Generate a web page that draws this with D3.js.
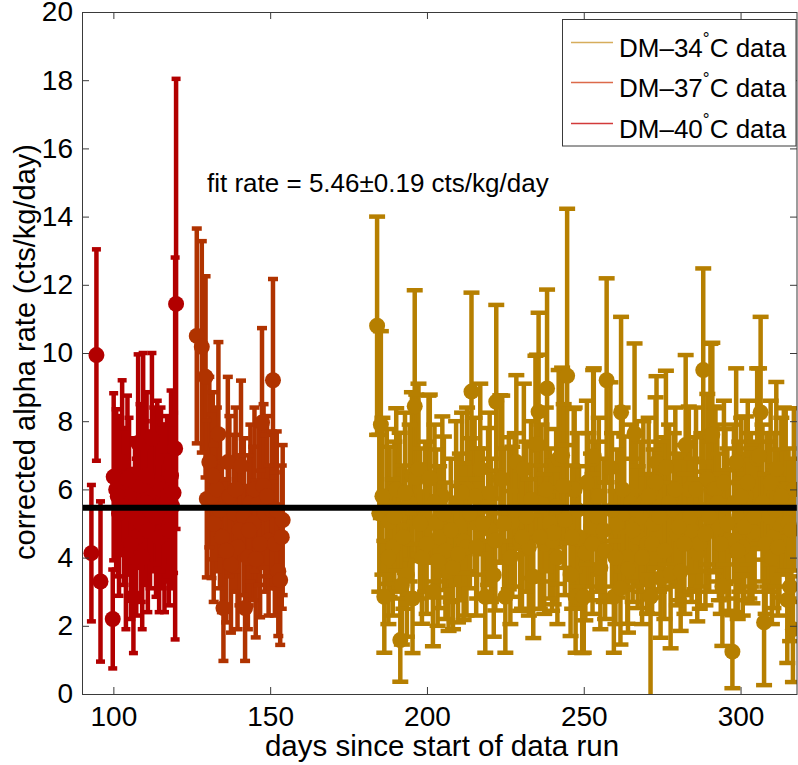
<!DOCTYPE html>
<html><head><meta charset="utf-8">
<script src="https://cdn.jsdelivr.net/npm/d3@7/dist/d3.min.js"></script>
<style>
body{margin:0;background:#fff}
svg{display:block}
text{font-family:"Liberation Sans",Arial,Helvetica,sans-serif;fill:#000}
</style>
</head><body>
<svg id="chart" width="798" height="765"></svg>
<script>
// ---------- data ----------
const days40 = [93.0,94.6,95.9,99.8,100.1,100.9,101.8,102.8,104.0,105.0,106.4,106.9,107.3,107.9,108.5,108.9,109.5,110.2,111.0,112.3,112.9,113.6,114.0,115.2,115.6,116.3,117.1,118.4,118.8,119.7,120.0,
  101.4,103.4,104.5,105.6,109.2,110.6,111.7,114.6,116.7,117.7,119.2];
const rate40 = [4.13,9.94,3.3,2.2,6.37,6.0,5.3,6.8,4.2,5.8,2.85,5.2,4.6,7.36,6.1,5.0,7.36,5.6,4.8,7.5,6.0,5.2,6.2,6.0,5.5,4.7,5.8,6.4,5.5,7.2,11.44,
  5.8,5.5,6.3,4.4,4.0,6.4,5.4,4.6,5.6,4.8,5.9];
const err40  = [2.0,3.1,2.35,1.45,2.45,2.35,2.42,2.4,2.3,2.3,1.65,2.3,2.3,2.6,2.4,2.3,2.64,2.4,2.4,2.5,2.4,2.35,2.4,2.4,2.4,2.3,2.35,2.5,2.4,5.6,6.6,
  2.35,2.3,2.45,2.2,2.1,2.45,2.3,2.2,2.3,2.2,2.35];

const days37 = [126.6,128.2,129.4,129.8,130.6,131.3,132.0,133.0,133.5,134.6,135.1,136.5,137.5,138.5,139.6,140.7,141.6,142.0,142.9,143.7,144.6,145.4,146.3,147.4,148.4,149.5,150.5,150.9,152.6,153.2,154.0,
  131.7,134.0,136.0,137.0,139.0,140.2,143.2,145.0,146.8,147.9,149.0,151.5,152.1,153.7];
const rate37 = [10.5,10.18,9.3,5.72,6.8,5.8,5.0,6.0,7.62,4.6,2.52,6.8,3.8,5.3,4.3,6.69,5.2,2.52,4.0,5.6,5.0,3.96,5.6,7.96,5.3,4.5,5.4,9.2,3.6,3.34,5.1,
  6.4,5.4,4.2,5.8,6.0,4.8,4.8,6.0,4.4,6.1,5.8,4.4,5.4,4.6];
const err37  = [3.15,3.1,2.95,2.3,2.5,2.4,2.3,2.4,2.7,2.2,1.55,2.5,2.0,2.3,2.4,2.5,2.3,1.55,2.1,2.3,2.25,2.3,2.4,2.77,2.3,2.2,2.3,2.97,1.9,1.9,2.2,
  2.45,2.3,2.1,2.35,2.4,2.2,2.2,2.4,2.15,2.4,2.35,2.1,2.3,2.1];

const days34 = [184.1,184.8,185.3,186.4,187.2,188.1,189.1,190.2,191.3,191.5,192.5,193.6,194.5,195.2,195.4,196.1,196.6,197.3,198.4,199.4,200.5,200.9,201.9,202.9,203.9,204.9,205.9,206.9,208.3,209.3,210.5,211.7,212.6,212.8,214.2,215.2,216.0,217.0,218.6,219.5,220.4,221.3,222.1,223.4,224.0,225.0,226.1,227.2,228.5,229.7,230.9,231.7,232.5,233.9,234.6,235.1,235.6,236.5,237.4,238.3,239.2,239.9,240.4,241.2,242.0,243.1,244.0,244.7,245.8,246.8,247.1,247.4,248.5,249.5,250.0,250.5,251.5,252.3,253.0,253.2,254.3,255.3,256.3,257.3,258.5,259.6,260.6,261.7,261.9,262.9,263.9,264.1,265.1,266.2,267.2,268.1,269.0,270.2,271.3,272.3,272.9,273.2,274.5,275.2,276.2,277.7,278.7,279.7,280.9,281.7,282.5,283.5,284.4,285.3,286.2,287.0,288.1,289.4,290.4,291.0,291.5,292.0,293.1,294.2,295.2,296.3,297.4,298.4,298.6,299.6,300.7,301.7,302.8,303.8,305.3,305.9,306.4,307.5,308.5,309.6,310.5,311.4,312.4,313.8,314.4,314.9,315.8,316.7,317.0,
  185.8,187.7,189.6,192.0,193.0,197.8,199.9,202.4,203.4,205.4,207.6,209.9,211.2,213.7,215.7,217.8,220.0,221.8,224.6,226.6,228.0,230.3,233.2,236.0,237.9,241.6,243.6,246.3,248.0,251.0,252.8,254.8,256.8,259.0,260.1,262.4,265.6,266.7,268.6,270.7,271.8,274.0,275.7,277.2,279.2,280.3,282.1,283.9,285.8,287.5,288.8,290.0,292.6,293.7,294.7,295.8,297.9,299.1,300.2,301.2,302.3,303.3,304.5,307.0,308.0,309.1,310.0,311.0,311.9,313.0,315.3,316.2];
const rate34 = [10.8,5.3,7.9,2.85,5.5,5.05,4.3,6.0,5.4,1.58,4.6,3.49,5.6,6.4,2.8,8.44,6.34,6.6,4.0,5.2,6.3,6.34,3.0,5.0,4.6,5.8,4.2,3.6,3.7,5.6,4.9,4.47,4.3,6.0,8.87,5.8,5.0,6.6,2.85,5.5,4.8,3.49,8.57,6.32,6.3,2.85,5.3,5.05,6.8,4.5,6.6,5.2,4.3,3.44,7.3,7.33,8.28,5.6,4.4,8.96,5.0,4.5,4.73,5.5,6.9,7.0,5.1,9.33,3.5,5.98,6.0,2.85,4.6,2.8,2.85,4.13,5.4,4.9,6.9,6.98,5.2,3.7,4.8,9.2,6.64,2.85,5.0,3.1,8.26,5.3,4.0,3.66,5.6,7.64,4.6,5.2,5.6,4.4,2.85,5.0,6.2,6.79,3.4,5.3,6.64,3.54,5.4,4.7,3.6,5.1,7.3,6.0,4.8,5.3,4.13,4.4,9.5,6.3,7.6,7.6,6.0,6.0,4.9,3.15,5.5,4.5,1.24,4.5,6.8,5.2,4.3,5.8,5.0,4.76,6.9,6.98,8.26,2.1,5.4,6.2,4.6,6.6,5.0,6.0,6.0,2.76,3.15,1.9,6.0,
  5.8,4.0,5.2,3.2,5.9,5.0,4.4,5.6,3.9,5.3,4.8,4.1,5.9,5.3,4.3,5.0,5.9,4.5,5.0,4.0,5.4,4.6,5.7,4.6,6.0,4.0,6.1,4.6,5.4,6.2,4.4,5.8,4.2,5.4,4.0,6.0,4.8,5.4,4.0,5.8,4.4,5.2,4.2,5.6,6.0,4.9,4.4,5.2,6.0,5.4,4.7,5.2,5.6,4.4,6.2,5.0,5.6,4.2,5.8,4.9,6.2,5.4,5.2,5.6,4.4,5.2,4.0,5.4,4.3,5.8,5.0,4.8];
const err34  = [3.2,2.3,2.74,1.64,2.27,2.2,2.0,2.38,2.26,1.22,2.1,1.81,2.3,2.45,1.6,3.4,2.44,2.5,1.94,2.2,2.45,2.44,1.6,2.17,2.08,2.34,2.0,1.75,1.8,2.4,2.15,2.3,2.0,2.4,2.9,2.3,2.2,2.5,1.64,2.3,2.1,1.81,2.84,2.44,2.45,1.64,2.23,2.2,2.55,2.06,2.5,2.2,2.0,1.8,2.62,2.62,2.9,2.3,2.05,2.9,2.2,2.06,2.1,2.27,2.6,2.57,2.2,4.9,1.8,2.38,2.4,1.64,2.08,1.6,1.64,1.97,2.25,2.15,2.6,2.57,2.2,1.8,2.1,2.99,2.5,1.64,2.17,1.65,2.8,2.25,1.94,1.86,2.3,2.64,2.08,2.2,2.4,2.04,3.1,2.17,2.5,2.53,1.75,2.23,2.84,2.2,2.25,2.1,1.75,2.2,2.64,2.43,2.1,2.23,2.0,1.9,2.98,2.5,2.67,2.7,2.43,2.38,2.15,1.74,2.27,2.06,1.07,2.1,2.75,2.2,2.0,2.34,2.2,2.1,2.65,2.57,2.8,1.84,2.25,2.4,2.08,2.55,2.17,2.4,2.38,1.85,1.6,1.55,2.38,
  2.3,1.95,2.2,1.75,2.35,2.2,2.05,2.3,1.9,2.25,2.1,2.0,2.35,2.2,2.0,2.2,2.35,2.05,2.2,1.95,2.25,2.1,2.3,2.1,2.4,1.95,2.4,2.1,2.25,2.4,2.05,2.3,2.0,2.25,1.95,2.4,2.1,2.25,1.95,2.3,2.05,2.2,2.0,2.3,2.4,2.15,2.05,2.2,2.4,2.25,2.1,2.2,2.3,2.05,2.4,2.2,2.3,2.0,2.3,2.15,2.4,2.25,2.2,2.3,2.05,2.2,1.95,2.25,2.0,2.3,2.2,2.1];

const seriesLabels = ["34", "37", "40"];
const xTicks = [100, 150, 200, 250, 300];
const yTicks = [0, 2, 4, 6, 8, 10, 12, 14, 16, 18, 20];
const fitRate = 5.46;
const fitErr = 0.19;

// ---------- layout ----------
const L = 82, R = 797, T = 12, B = 694;
const svg = d3.select("#chart");
const x = d3.scaleLinear().domain([90, 318]).range([L, R]);
const y = d3.scaleLinear().domain([0, 20]).range([B, T]);

const colors = {"34": "#b67f00", "37": "#b03300", "40": "#b20000"};
const legendColors = {"34": "#d6ad5c", "37": "#dc6a4a", "40": "#d23a3a"};
const capPx = {"34": 12, "37": 6, "40": 5};

svg.append("defs").append("clipPath").attr("id", "clip")
  .append("rect").attr("x", L).attr("y", T).attr("width", R - L).attr("height", B - T);

const plot = svg.append("g").attr("clip-path", "url(#clip)");

function series(key, ds, vs, es) {
  const n = Math.min(ds.length, vs.length, es.length);
  const pts = d3.range(n).map(i => ({d: ds[i], v: vs[i], e: es[i]}));
  const g = plot.append("g");
  const c = colors[key];
  const hw = capPx[key] / 2;
  const bars = g.append("g").attr("stroke", c).attr("stroke-width", 4.5).attr("fill", "none");
  bars.selectAll("line.v").data(pts).join("line").attr("class", "v")
    .attr("x1", p => x(p.d)).attr("x2", p => x(p.d))
    .attr("y1", p => y(p.v - p.e)).attr("y2", p => y(p.v + p.e));
  bars.selectAll("line.ct").data(pts).join("line").attr("class", "ct")
    .attr("x1", p => x(p.d) - hw - 2).attr("x2", p => x(p.d) + hw + 2)
    .attr("y1", p => y(p.v + p.e)).attr("y2", p => y(p.v + p.e));
  bars.selectAll("line.cb").data(pts).join("line").attr("class", "cb")
    .attr("x1", p => x(p.d) - hw - 2).attr("x2", p => x(p.d) + hw + 2)
    .attr("y1", p => y(p.v - p.e)).attr("y2", p => y(p.v - p.e));
  g.append("g").attr("fill", c).selectAll("circle").data(pts).join("circle")
    .attr("cx", p => x(p.d)).attr("cy", p => y(p.v)).attr("r", 8);
}
series("40", days40, rate40, err40);
series("37", days37, rate37, err37);
series("34", days34, rate34, err34);

// fit line
plot.append("line").attr("x1", L).attr("x2", R)
  .attr("y1", y(fitRate)).attr("y2", y(fitRate))
  .attr("stroke", "#000").attr("stroke-width", 6);

// ---------- axes ----------
const axCol = "#3a3a3a";
function styleAxis(g, showText) {
  g.select(".domain").remove();
  g.selectAll(".tick line").attr("stroke", axCol);
  g.selectAll(".tick text").attr("font-size", 28)
    .attr("font-family", '"Liberation Sans",Arial,sans-serif').attr("fill", "#000");
  if (!showText) g.selectAll(".tick text").remove();
}
svg.append("g").attr("transform", `translate(0,${B})`)
  .call(d3.axisBottom(x).tickValues(xTicks).tickSize(-7).tickPadding(12).tickFormat(d3.format("d")))
  .call(g => styleAxis(g, true));
svg.append("g").attr("transform", `translate(0,${T})`)
  .call(d3.axisTop(x).tickValues(xTicks).tickSize(-7))
  .call(g => styleAxis(g, false));
svg.append("g").attr("transform", `translate(${L},0)`)
  .call(d3.axisLeft(y).tickValues(yTicks).tickSize(-7).tickPadding(9).tickFormat(d3.format("d")))
  .call(g => styleAxis(g, true));
svg.append("g").attr("transform", `translate(${R},0)`)
  .call(d3.axisRight(y).tickValues(yTicks).tickSize(-7))
  .call(g => styleAxis(g, false));

// frame
svg.append("rect").attr("x", L + 0.5).attr("y", T + 0.5).attr("width", R - L - 0.5).attr("height", B - T)
  .attr("fill", "none").attr("stroke", axCol).attr("stroke-width", 1);

// axis labels
svg.append("text").attr("x", 442).attr("y", 756).attr("text-anchor", "middle")
  .attr("font-size", 29.5).text("days since start of data run");
svg.append("text").attr("transform", "translate(35,352) rotate(-90)").attr("text-anchor", "middle")
  .attr("font-size", 29).text("corrected alpha rate (cts/kg/day)");

// fit text
svg.append("text").attr("x", 207).attr("y", 192).attr("font-size", 26)
  .text(`fit rate = ${fitRate.toFixed(2)}\u00B1${fitErr.toFixed(2)} cts/kg/day`);

// ---------- legend ----------
const lg = svg.append("g");
lg.append("rect").attr("x", 562.5).attr("y", 19.5).attr("width", 233.5).attr("height", 126.5)
  .attr("fill", "#fff").attr("stroke", axCol).attr("stroke-width", 1);
const rowsY = [42, 82, 123];
seriesLabels.forEach((k, i) => {
  const yy = rowsY[i];
  lg.append("line").attr("x1", 571).attr("x2", 613).attr("y1", yy + 0.5).attr("y2", yy + 0.5)
    .attr("stroke", legendColors[k]).attr("stroke-width", 1.5);
  const t = lg.append("text").attr("x", 619).attr("y", yy + 15).attr("font-size", 26);
  t.append("tspan").text("DM\u2013" + k);
  t.append("tspan").attr("dy", -13).attr("font-size", 17).text("\u00B0");
  t.append("tspan").attr("dy", 13).text("C data");
});
</script>
</body></html>
